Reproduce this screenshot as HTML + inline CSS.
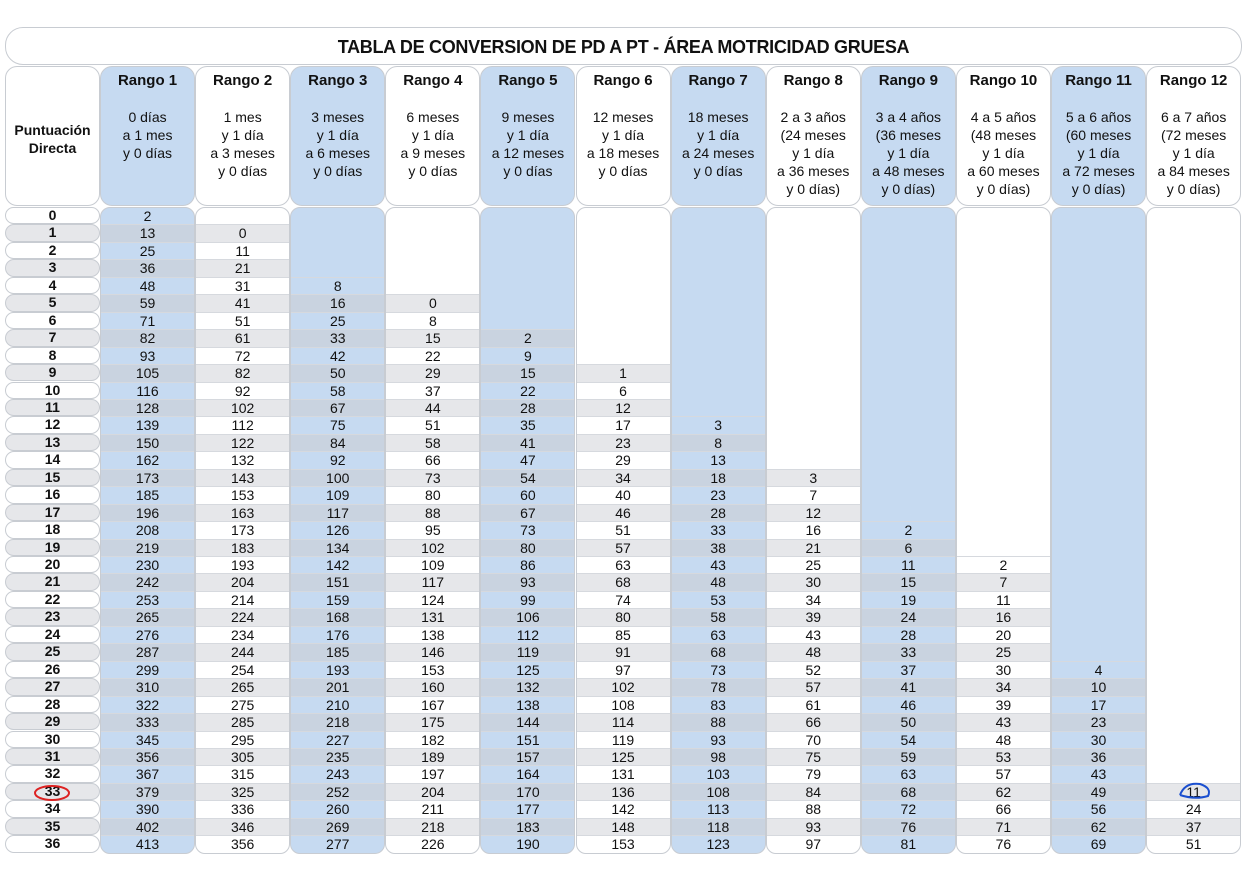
<!DOCTYPE html>
<html><head><meta charset="utf-8"><style>
body{margin:0;width:1255px;height:879px;background:#fff;font-family:"Liberation Sans",sans-serif;position:relative;overflow:hidden;color:#111}
.abs{position:absolute;box-sizing:border-box}
.title{left:5px;top:27px;width:1237px;height:38px;border:1px solid #c8ccd2;border-radius:18px;text-align:center;font-weight:bold;font-size:18px;line-height:38px;letter-spacing:-0.3px}
.hdr{top:66px;height:140px;border:1px solid #c8ccd2;border-radius:12px;text-align:center;font-size:14px;line-height:18px}
.hdr b{display:block;font-size:15px;margin-top:5px;margin-bottom:18px}
.col{top:207px;height:647px;border:1px solid #c8ccd2;border-radius:10px;overflow:hidden}
.blue{background:#c6daf1}
.cell{position:absolute;left:0;right:0;text-align:center;font-size:14px;border-top:1px solid #d6d9de}
.rl{border:1px solid #c8ccd2;border-radius:9px;text-align:center;font-weight:bold;font-size:14px}
</style></head><body>
<div class="abs title">TABLA DE CONVERSION DE PD A PT - ÁREA MOTRICIDAD GRUESA</div>
<div id="root"></div>
<script>
const headers=[["Puntuación<br>Directa"],
["Rango 1","0 días<br>a 1 mes<br>y 0 días"],
["Rango 2","1 mes<br>y 1 día<br>a 3 meses<br>y 0 días"],
["Rango 3","3 meses<br>y 1 día<br>a 6 meses<br>y 0 días"],
["Rango 4","6 meses<br>y 1 día<br>a 9 meses<br>y 0 días"],
["Rango 5","9 meses<br>y 1 día<br>a 12 meses<br>y 0 días"],
["Rango 6","12 meses<br>y 1 día<br>a 18 meses<br>y 0 días"],
["Rango 7","18 meses<br>y 1 día<br>a 24 meses<br>y 0 días"],
["Rango 8","2 a 3 años<br>(24 meses<br>y 1 día<br>a 36 meses<br>y 0 días)"],
["Rango 9","3 a 4 años<br>(36 meses<br>y 1 día<br>a 48 meses<br>y 0 días)"],
["Rango 10","4 a 5 años<br>(48 meses<br>y 1 día<br>a 60 meses<br>y 0 días)"],
["Rango 11","5 a 6 años<br>(60 meses<br>y 1 día<br>a 72 meses<br>y 0 días)"],
["Rango 12","6 a 7 años<br>(72 meses<br>y 1 día<br>a 84 meses<br>y 0 días)"]];
const startRows=[0,1,4,5,7,9,12,15,18,20,26,33];
const r1=[2,13,25,36,48,59,71,82,93,105,116,128,139,150,162,173,185,196,208,219,230,242,253,265,276,287,299,310,322,333,345,356,367,379,390,402,413];
const r2=[0,11,21,31,41,51,61,72,82,92,102,112,122,132,143,153,163,173,183,193,204,214,224,234,244,254,265,275,285,295,305,315,325,336,346,356];
const r3=[8,16,25,33,42,50,58,67,75,84,92,100,109,117,126,134,142,151,159,168,176,185,193,201,210,218,227,235,243,252,260,269,277];
const r4=[0,8,15,22,29,37,44,51,58,66,73,80,88,95,102,109,117,124,131,138,146,153,160,167,175,182,189,197,204,211,218,226];
const r5=[2,9,15,22,28,35,41,47,54,60,67,73,80,86,93,99,106,112,119,125,132,138,144,151,157,164,170,177,183,190];
const r6=[1,6,12,17,23,29,34,40,46,51,57,63,68,74,80,85,91,97,102,108,114,119,125,131,136,142,148,153];
const r7=[3,8,13,18,23,28,33,38,43,48,53,58,63,68,73,78,83,88,93,98,103,108,113,118,123];
const r8=[3,7,12,16,21,25,30,34,39,43,48,52,57,61,66,70,75,79,84,88,93,97];
const r9=[2,6,11,15,19,24,28,33,37,41,46,50,54,59,63,68,72,76,81];
const r10=[2,7,11,16,20,25,30,34,39,43,48,53,57,62,66,71,76];
const r11=[4,10,17,23,30,36,43,49,56,62,69];
const r12=[11,24,37,51];
const series=[r1,r2,r3,r4,r5,r6,r7,r8,r9,r10,r11,r12];
const root=document.getElementById('root');
const colX=i=>i===0?5:100+(i-1)*95.1;
const colW=i=>i===0?95:95.1;
const TOP=207,RH=17.45;
const rowY=r=>r*RH;
headers.forEach((h,i)=>{
  const d=document.createElement('div');
  d.className='abs hdr'+(i%2===1?' blue':'');
  
  
  d.style.left=colX(i)+'px';d.style.width=colW(i)+'px';
  if(i===0){d.style.fontWeight='bold';d.style.paddingTop='54px';d.innerHTML=h[0];}
  else d.innerHTML='<b>'+h[0]+'</b>'+h[1];
  root.appendChild(d);
});
for(let r=0;r<37;r++){
  const d=document.createElement('div');
  d.className='abs rl';
  
  
  d.style.left='5px';d.style.width='95px';
  d.style.top=(TOP+rowY(r))+'px';d.style.height=RH+'px';d.style.lineHeight=(RH-2)+'px';
  d.style.background=r%2?'#e6e7ea':'#fff';
  d.textContent=r;
  root.appendChild(d);
}
series.forEach((vals,k)=>{
  const i=k+1;
  const c=document.createElement('div');
  c.className='abs col'+(i%2===1?' blue':'');
  
  
  c.style.left=colX(i)+'px';c.style.width=colW(i)+'px';
  vals.forEach((v,j)=>{
    const r=startRows[k]+j;
    const e=document.createElement('div');
    e.className='cell';
    
    
    e.style.top=(rowY(r)-1)+'px';e.style.height=RH+'px';e.style.lineHeight=RH+'px';
    if(r%2) e.style.background=i%2===1?'#c9d3e0':'#e6e7ea';
    e.textContent=v;
    c.appendChild(e);
  });
  root.appendChild(c);
});
</script>
<svg class="abs" style="left:0;top:0" width="1255" height="879">
<ellipse cx="52" cy="793" rx="17" ry="7" fill="none" stroke="#d22" stroke-width="2"/>
<path d="M1180 795 Q1185 782 1200 784 Q1212 788 1208 796 Q1195 800 1180 795" fill="none" stroke="#1a4fd0" stroke-width="2"/>
</svg>
</body></html>
